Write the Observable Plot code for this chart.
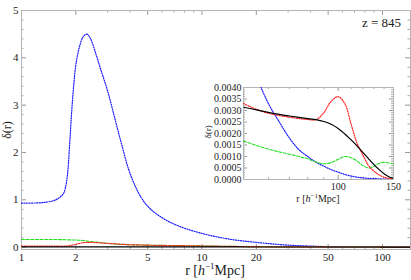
<!DOCTYPE html>
<html><head><meta charset="utf-8">
<script src="https://cdn.jsdelivr.net/npm/d3@7"></script>
<script src="https://cdn.jsdelivr.net/npm/@observablehq/plot@0.6"></script>
<style>
body{margin:0;background:#fff;}
#wrap{position:relative;width:411px;height:280px;overflow:hidden;}
#main{position:absolute;left:0;top:0;}
#inset{position:absolute;left:198px;top:82px;}
</style></head><body><div id="wrap"><div id="main"></div><div id="inset"></div></div>
<script>
// ---- main panel data (r in h^-1 Mpc, log axis) ----
const rMain = [1,1.3,1.5,1.6,1.7,1.75,1.8,1.85,1.9,1.95,2,2.1,2.2,2.3,2.4,2.6,2.75,3,3.3,3.6,4,4.6,5.2,6.4,8,10,12,15,19,28,35,47];
const blueMain = [0.93,0.94,0.98,1.03,1.12,1.25,1.55,2.2,2.9,3.45,3.85,4.25,4.45,4.5,4.42,4.05,3.75,3.3,2.7,2.15,1.55,1.05,0.8,0.56,0.4,0.29,0.22,0.155,0.11,0.05,0.03,0.012];
const greenMain = [0.16,0.16,0.16,0.16,0.158,0.157,0.155,0.153,0.152,0.151,0.15,0.145,0.14,0.13,0.12,0.105,0.095,0.08,0.065,0.058,0.05,0.045,0.04,0.035,0.03,0.025,0.02,0.015,0.01,0.005,0.003,0.0018];
const redMain = [0.02,0.02,0.02,0.02,0.021,0.022,0.025,0.03,0.04,0.05,0.06,0.08,0.095,0.1,0.1,0.095,0.09,0.08,0.07,0.06,0.05,0.045,0.04,0.035,0.03,0.025,0.02,0.015,0.01,0.006,0.0045,0.0035];
const blackMain = [0.004,0.004,0.004,0.004,0.004,0.004,0.004,0.004,0.004,0.004,0.004,0.004,0.004,0.004,0.004,0.004,0.004,0.004,0.004,0.004,0.0039,0.0038,0.0037,0.0036,0.0035,0.0035,0.0034,0.0034,0.0033,0.0033,0.0032,0.0032];

// ---- inset data (r from 50 to 150) ----
const rInset = [50,55,60,65,70,75,80,85,90,95,100,105,110,115,120,125,130,135,140,145,150];
const blueInset = [0.0062,0.0045,0.0033,0.0025,0.0018,0.0013,0.001,0.00075,0.00058,0.00043,0.00032,0.00022,0.00015,0.0001,0.00007,0.00005,0.00004,0.00003,0.00002,0.00002,0.00001];
const greenInset = [0.00167,0.00148,0.00132,0.0012,0.0011,0.001,0.0009,0.00076,0.00068,0.00073,0.00088,0.001,0.00095,0.0008,0.0006,0.0005,0.00058,0.0007,0.00075,0.00072,0.00068];
const redInset = [0.0033,0.00305,0.00288,0.00278,0.00271,0.00265,0.00261,0.0026,0.0029,0.0034,0.0036,0.0033,0.0024,0.00155,0.00105,0.0006,0.00036,0.0002,0.0001,0.00005,0.00003];
const blackInset = [0.00314,0.00303,0.00292,0.00283,0.00276,0.0027,0.00265,0.0026,0.00252,0.0024,0.00222,0.00198,0.00172,0.00145,0.00117,0.0009,0.00065,0.00043,0.00025,0.00012,0.00005];

// ---- ticks & labels ----
const xMajorMain = [1,2,5,10,20,50,100];
const xMinorMain = [3,4,6,7,8,9,30,40,60,70,80,90];
const yMajorMain = [0,1,2,3,4,5];
const xMajorInset = [100,150];
const xMinorInset = [60,70,80,90,110,120,130,140];
const zLabel = "z = 845";

const serif = "'Liberation Serif','Times New Roman',serif";
const series = [
  {name:"blue", color:"#1a1aff", dash:"1.1,1.4", width:1.2},
  {name:"green", color:"#22dd22", dash:"3,1.6", width:1.1},
  {name:"red", color:"#ff2020", dash:"1.1,1.4", width:1.2},
  {name:"black", color:"#000000", dash:null, width:1.2}
];
function rows(rs, vals){ return rs.map((r,i)=>({r, v: vals[i]})); }
const mainSets = {
  blue: rows(rMain.concat(rInset), blueMain.concat(blueInset)),
  green: rows(rMain.concat(rInset), greenMain.concat(greenInset)),
  red: rows(rMain.concat(rInset), redMain.concat(redInset)),
  black: rows(rMain.concat(rInset), blackMain.concat(blackInset))
};
const insetSets = {
  blue: rows(rInset, blueInset), green: rows(rInset, greenInset),
  red: rows(rInset, redInset), black: rows(rInset, blackInset)
};
function lines(sets){
  return series.map(s => Plot.line(sets[s.name], {x:"r", y:"v", stroke:s.color, strokeWidth:s.width,
    strokeDasharray:s.dash, strokeLinecap:s.dash ? "round" : "butt", curve:"catmull-rom", clip:true}));
}
function frameTicks(xs, ys, len, pw, ph, col){
  return [
    Plot.tickX(xs,{x:d=>d, insetTop:ph-len, stroke:col}),
    Plot.tickX(xs,{x:d=>d, insetBottom:ph-len, stroke:col}),
    Plot.tickY(ys,{y:d=>d, insetRight:pw-len, stroke:col}),
    Plot.tickY(ys,{y:d=>d, insetLeft:pw-len, stroke:col})
  ];
}
function tickLabels(xs, ys, fx, fy, size, padX, padY){
  return [
    Plot.text(xs, {x:d=>d, frameAnchor:"bottom", lineAnchor:"top", dy:padX, text:fx, fontSize:size, fill:"#222"}),
    Plot.text(ys, {y:d=>d, frameAnchor:"left", textAnchor:"end", dx:-padY, text:fy, fontSize:size, fill:"#222"})
  ];
}

// ---- main plot ----
const M = {w:411,h:280,l:21,r:1,t:10,b:31};
const pw = M.w-M.l-M.r, ph = M.h-M.t-M.b;
const yMinorMain = d3.range(0.2,5,0.2).filter(v=>Math.abs(v-Math.round(v))>1e-6);
const main = Plot.plot({
  width:M.w, height:M.h, marginLeft:M.l, marginRight:M.r, marginTop:M.t, marginBottom:M.b,
  x:{type:"log", domain:[1,143], axis:null},
  y:{domain:[-0.05,5], axis:null},
  style:{fontFamily:serif, fontSize:"11px", background:"transparent", color:"#222"},
  marks:[
    ...frameTicks(xMajorMain, yMajorMain, 5, pw, ph, "#999"),
    ...frameTicks(xMinorMain, yMinorMain, 2.5, pw, ph, "#aaa"),
    Plot.frame({stroke:"#b5b5b5"}),
    ...tickLabels(xMajorMain, yMajorMain, d=>String(d), d=>String(d), 11, 4, 3),
    ...lines(mainSets)
  ]
});
document.getElementById("main").appendChild(main);
const ms = d3.select(main);
ms.append("text").attr("transform","translate(11,130) rotate(-90)").attr("text-anchor","middle")
  .attr("font-family",serif).attr("font-size",12).attr("fill","#222").text("δ(r)");
const xl = ms.append("text").attr("x",215).attr("y",275).attr("text-anchor","middle")
  .attr("font-family",serif).attr("font-size",14).attr("fill","#222");
xl.append("tspan").text("r [");
xl.append("tspan").attr("font-style","italic").text("h");
xl.append("tspan").attr("font-size",9).attr("dy",-6).text("−1");
xl.append("tspan").attr("dy",6).text("Mpc]");
ms.append("text").attr("x",401).attr("y",27).attr("text-anchor","end")
  .attr("font-family",serif).attr("font-size",13).attr("fill","#222").text(zLabel);

// ---- inset plot ----
const I = {w:205,h:125,l:45,r:10,t:5,b:28};
const ipw = I.w-I.l-I.r, iph = I.h-I.t-I.b;
const yMajorInset = d3.range(0,0.00401,0.0005);
const yMinorInset = d3.range(0.0001,0.004,0.0001).filter(v=>Math.abs(v/0.0005-Math.round(v/0.0005))>1e-6);
const inset = Plot.plot({
  width:I.w, height:I.h, marginLeft:I.l, marginRight:I.r, marginTop:I.t, marginBottom:I.b,
  x:{type:"log", domain:[50,150], axis:null},
  y:{domain:[0,0.004], axis:null},
  style:{fontFamily:serif, fontSize:"10px", background:"transparent", color:"#222"},
  marks:[
    ...frameTicks(xMajorInset, yMajorInset, 4, ipw, iph, "#999"),
    ...frameTicks(xMinorInset, yMinorInset, 2, ipw, iph, "#aaa"),
    Plot.frame({stroke:"#b5b5b5"}),
    ...tickLabels(xMajorInset, yMajorInset, d=>String(d), d3.format(".4f"), 10, 3, 2),
    ...lines(insetSets)
  ]
});
document.getElementById("inset").appendChild(inset);
const is = d3.select(inset);
is.append("text").attr("transform","translate(13,50) rotate(-90)").attr("text-anchor","middle")
  .attr("font-family",serif).attr("font-size",9).attr("fill","#222").text("δ(r)");
const ixl = is.append("text").attr("x",120).attr("y",120).attr("text-anchor","middle")
  .attr("font-family",serif).attr("font-size",10).attr("fill","#222");
ixl.append("tspan").text("r [");
ixl.append("tspan").attr("font-style","italic").text("h");
ixl.append("tspan").attr("font-size",7).attr("dy",-4).text("−1");
ixl.append("tspan").attr("dy",4).text("Mpc]");
</script></body></html>
